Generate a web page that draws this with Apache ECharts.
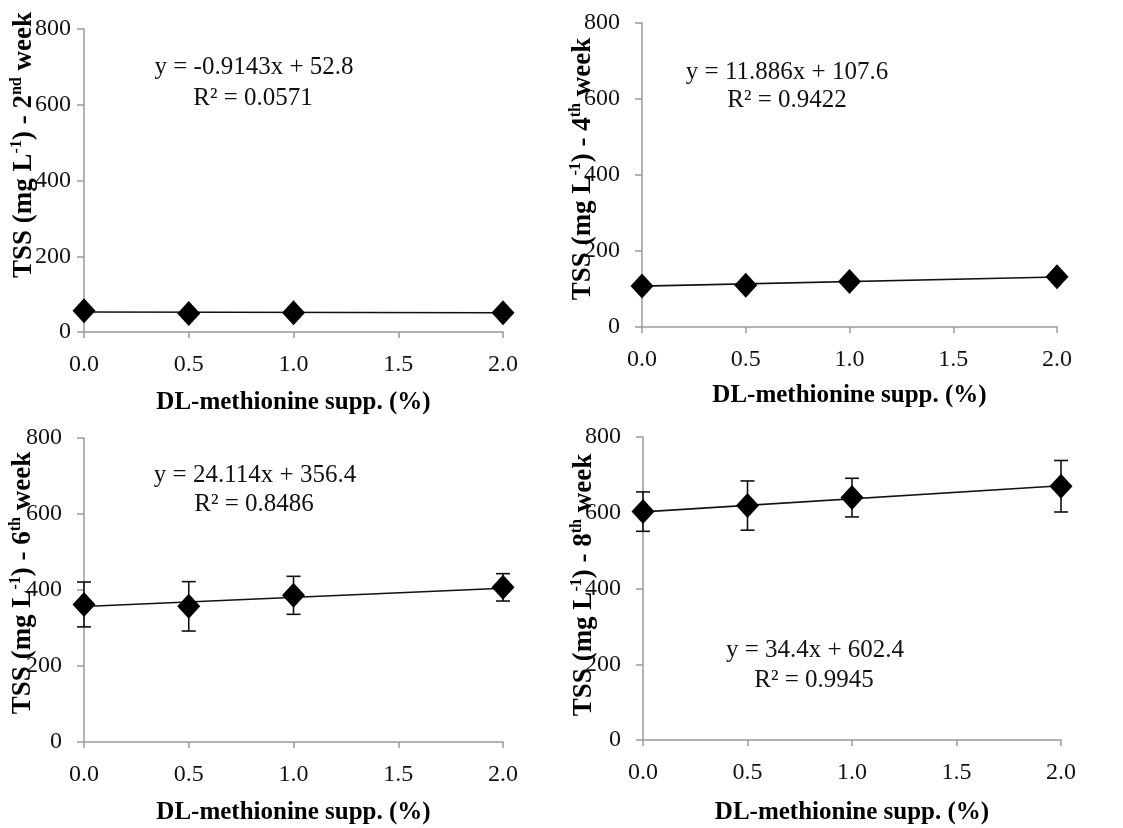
<!DOCTYPE html>
<html>
<head>
<meta charset="utf-8">
<script src="https://cdn.jsdelivr.net/npm/echarts@6/dist/echarts.min.js"></script>
<style>
html,body{margin:0;padding:0;background:#fff;}
#chart{width:1123px;height:828px;}
</style>
</head>
<body>
<div id="chart"></div>
<script>
// ---- data ----
const xValues = [0, 0.5, 1.0, 2.0];
const xTicks = [0, 0.5, 1.0, 1.5, 2.0];
const yTicks = [0, 200, 400, 600, 800];

const week2 = [56, 49, 51, 51];
const week4 = [108, 110, 120, 132];
const week6 = [362, 357, 386, 407];
const week8 = [603, 619, 640, 670];

const err2 = [0, 0, 0, 0];
const err4 = [0, 0, 0, 0];
const err6 = [59, 65, 50, 36];
const err8 = [52, 65, 51, 68];

// trend line end points (x = 0 and x = 2)
const trendX = [0, 2];
const trend2 = [52.8, 51.0];
const trend4 = [107.6, 131.4];
const trend6 = [356.4, 404.6];
const trend8 = [602.4, 671.2];

const equations = ['y = -0.9143x + 52.8', 'y = 11.886x + 107.6', 'y = 24.114x + 356.4', 'y = 34.4x + 602.4'];
const rSquared = ['R² = 0.0571', 'R² = 0.9422', 'R² = 0.8486', 'R² = 0.9945'];
const weekNum = ['2', '4', '6', '8'];
const weekSup = ['nd', 'th', 'th', 'th'];
const xAxisTitle = 'DL-methionine supp. (%)';

// ---- layout ----
const FONT = '"Liberation Serif", "Times New Roman", serif';
const grids = [
  {left: 84, top: 29, width: 419, height: 303},
  {left: 642, top: 23, width: 415, height: 304},
  {left: 84, top: 438, width: 419, height: 304},
  {left: 643, top: 437, width: 418, height: 303}
];
const yLabelMargin = [13, 22, 22, 22];
const xNameGap = [58, 56, 58, 60];
const eqPos = [[254, 67, 253, 98], [787, 72, 787, 100], [255, 475, 254, 504], [815, 650, 814, 680]];
const yNamePos = [[24, 145], [583, 169], [23, 583], [584, 585]];

const seriesData = [week2, week4, week6, week8];
const errData = [err2, err4, err6, err8];
const trendData = [trend2, trend4, trend6, trend8];

const gridOpts = [], xAxes = [], yAxes = [], series = [], graphics = [];

for (let i = 0; i < 4; i++) {
  gridOpts.push(Object.assign({containLabel: false, outerBoundsMode: 'none'}, grids[i]));
  xAxes.push({
    type: 'value', gridIndex: i, min: xTicks[0], max: xTicks[xTicks.length - 1], interval: 0.5,
    name: xAxisTitle, nameLocation: 'middle', nameGap: xNameGap[i],
    nameTextStyle: {fontFamily: FONT, fontWeight: 'bold', fontSize: 25, color: '#000'},
    axisLine: {show: true, onZero: false, lineStyle: {color: '#9a9a9a', width: 1.5}},
    axisTick: {show: true, inside: false, length: 6, lineStyle: {color: '#9a9a9a', width: 1.5}},
    axisLabel: {fontFamily: FONT, fontSize: 24, color: '#111', margin: 21,
      formatter: v => Number(v).toFixed(1)},
    splitLine: {show: false}
  });
  yAxes.push({
    type: 'value', gridIndex: i, min: yTicks[0], max: yTicks[yTicks.length - 1], interval: 200,
    axisLine: {show: true, onZero: false, lineStyle: {color: '#9a9a9a', width: 1.5}},
    axisTick: {show: true, inside: false, length: 7, lineStyle: {color: '#9a9a9a', width: 1.5}},
    axisLabel: {fontFamily: FONT, fontSize: 24, color: '#111', margin: yLabelMargin[i]},
    splitLine: {show: false}
  });
  // trend line
  series.push({
    type: 'line', xAxisIndex: i, yAxisIndex: i, silent: true, symbol: 'none',
    lineStyle: {color: '#111', width: 1.6},
    data: trendX.map((x, k) => [x, trendData[i][k]]),
    z: 2
  });
  // error bars
  const ed = xValues.map((x, k) => [x, seriesData[i][k] - errData[i][k], seriesData[i][k] + errData[i][k]]);
  series.push({
    type: 'custom', xAxisIndex: i, yAxisIndex: i, silent: true, clip: false,
    data: ed,
    renderItem: function (params, api) {
      const x = api.value(0);
      const lo = api.coord([x, api.value(1)]);
      const hi = api.coord([x, api.value(2)]);
      const cw = 7;
      const st = {stroke: '#111', lineWidth: 1.6};
      return {type: 'group', children: [
        {type: 'line', shape: {x1: lo[0], y1: lo[1], x2: hi[0], y2: hi[1]}, style: st},
        {type: 'line', shape: {x1: lo[0] - cw, y1: lo[1], x2: lo[0] + cw, y2: lo[1]}, style: st},
        {type: 'line', shape: {x1: hi[0] - cw, y1: hi[1], x2: hi[0] + cw, y2: hi[1]}, style: st}
      ]};
    },
    z: 3
  });
  // markers
  series.push({
    type: 'scatter', xAxisIndex: i, yAxisIndex: i, clip: false,
    symbol: 'diamond', symbolSize: [23, 25],
    itemStyle: {color: '#000', opacity: 1},
    data: xValues.map((x, k) => [x, seriesData[i][k]]),
    z: 4
  });
  // equation texts
  graphics.push({type: 'text', x: eqPos[i][0], y: eqPos[i][1], z: 10,
    style: {text: equations[i], fontFamily: FONT, fontSize: 25, fill: '#111', align: 'center', verticalAlign: 'middle'}});
  graphics.push({type: 'text', x: eqPos[i][2], y: eqPos[i][3], z: 10,
    style: {text: rSquared[i], fontFamily: FONT, fontSize: 25, fill: '#111', align: 'center', verticalAlign: 'middle'}});
  // y axis title (rotated, with superscripts)
  graphics.push({type: 'text', x: yNamePos[i][0], y: yNamePos[i][1], rotation: Math.PI / 2, z: 10,
    style: {
      text: '{a|TSS (mg L}{s|-1}{a|) - ' + weekNum[i] + '}{s|' + weekSup[i] + '}{a| week}',
      align: 'center', verticalAlign: 'middle',
      rich: {
        a: {fontFamily: FONT, fontWeight: 'bold', fontSize: 27, fill: '#000', color: '#000', lineHeight: 30},
        s: {fontFamily: FONT, fontWeight: 'bold', fontSize: 16, fill: '#000', color: '#000', verticalAlign: 'top', lineHeight: 30}
      }
    }});
}

const chart = echarts.init(document.getElementById('chart'), null, {renderer: 'canvas'});
chart.setOption({
  backgroundColor: '#fff',
  animation: false,
  grid: gridOpts,
  xAxis: xAxes,
  yAxis: yAxes,
  series: series,
  graphic: graphics
});
</script>
</body>
</html>
